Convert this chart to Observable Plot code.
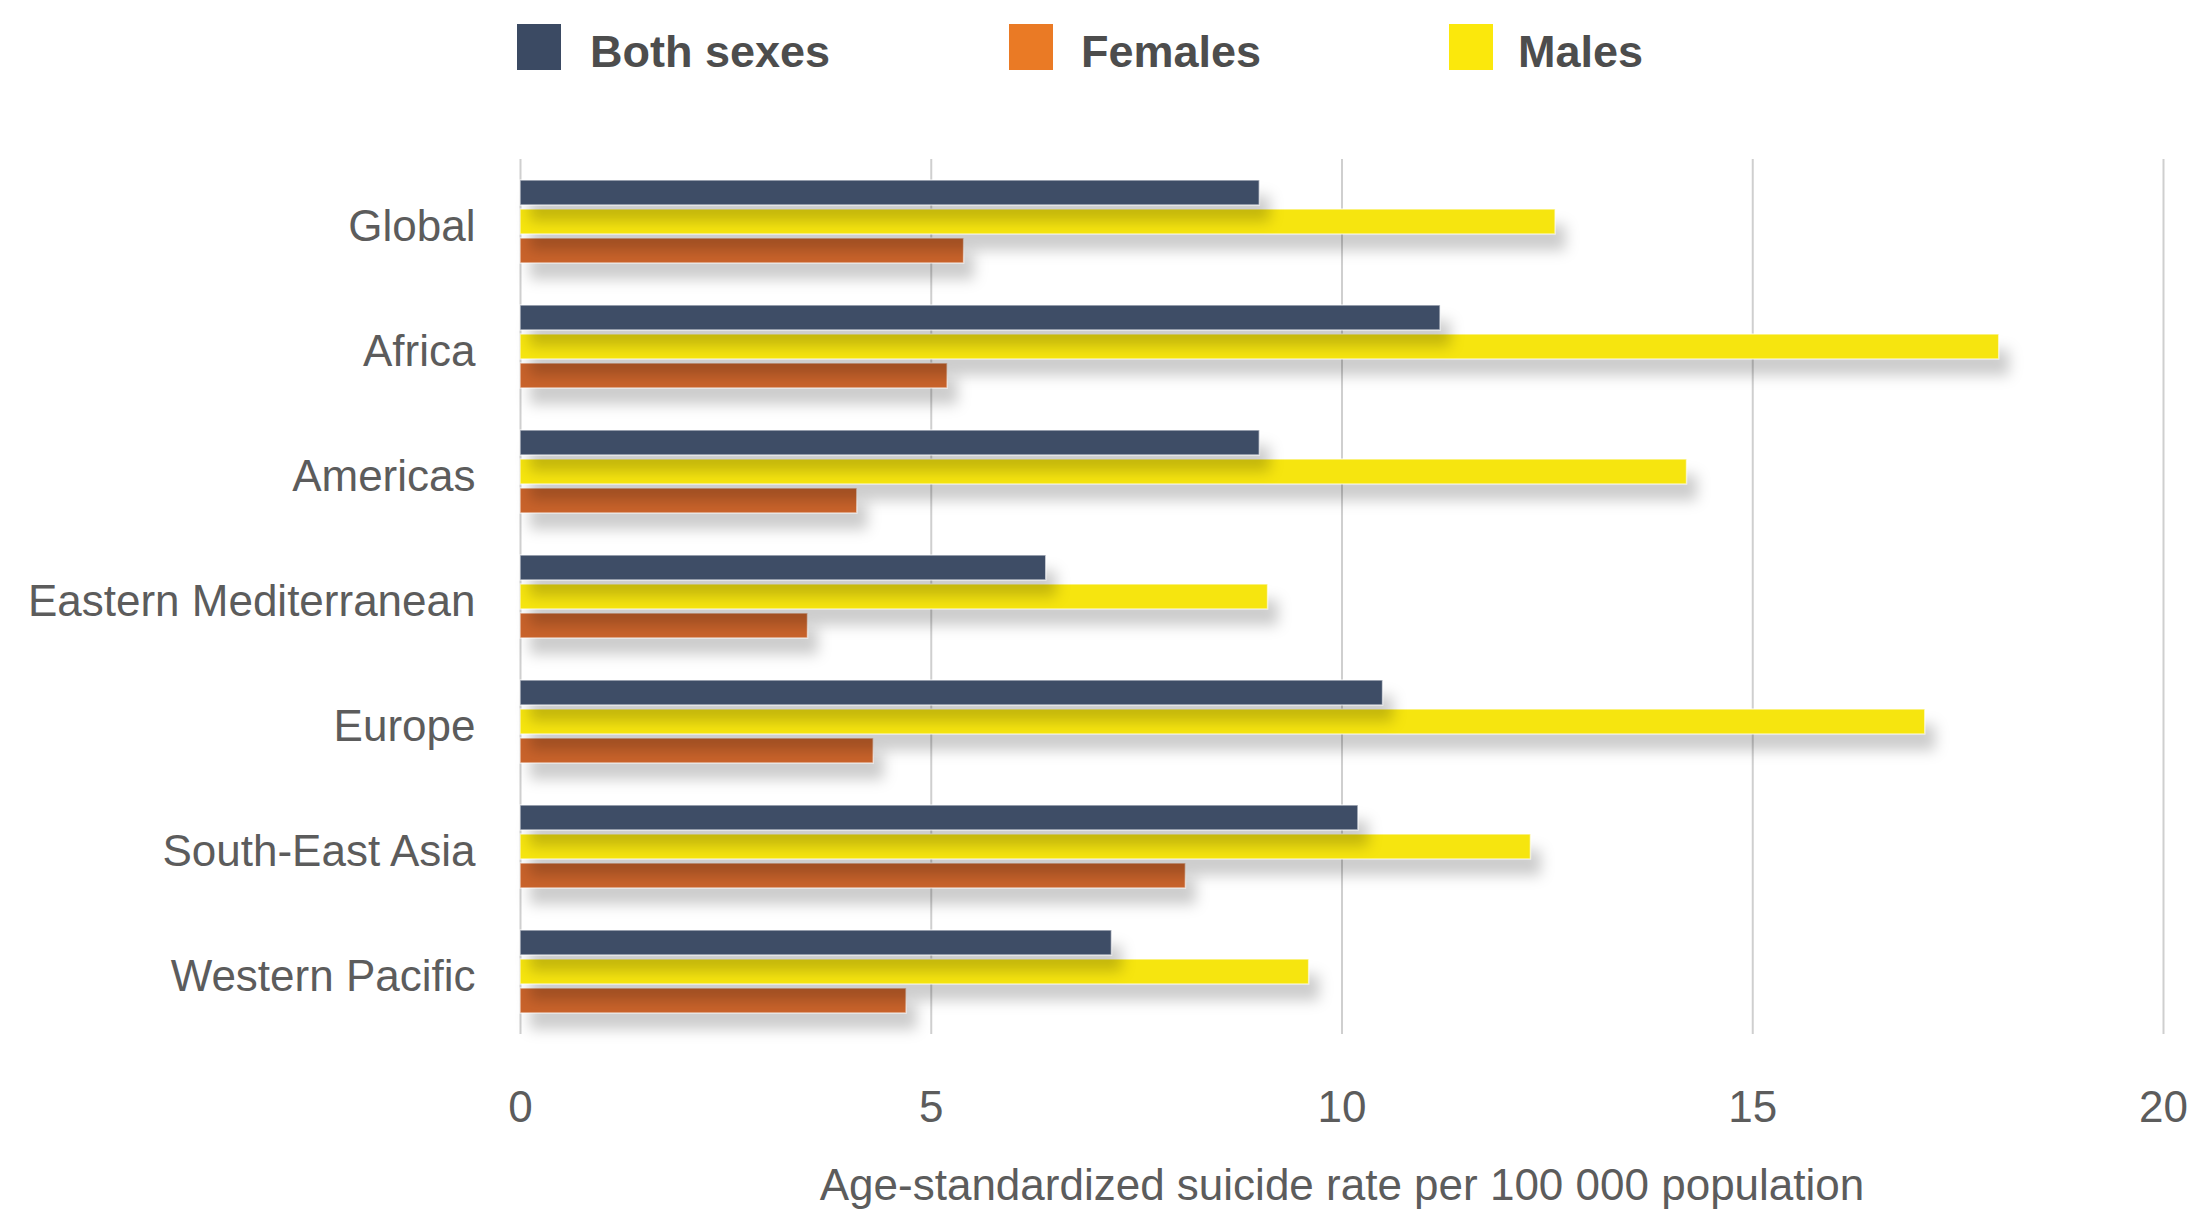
<!DOCTYPE html>
<html><head><meta charset="utf-8">
<script src="https://cdn.jsdelivr.net/npm/d3@7"></script>
<script src="https://cdn.jsdelivr.net/npm/@observablehq/plot@0.6"></script>
<style>
body{margin:0;background:#fff;font-family:"Liberation Sans",Arial,sans-serif;}
#wrap{position:relative;width:2198px;height:1213px;overflow:hidden}
#legend{position:relative;height:100px}
.sw{position:absolute;top:24px;width:44px;height:46px}
.lt{position:absolute;top:24px;line-height:56px;font-weight:bold;font-size:45px;color:#4d4d4d;white-space:nowrap}
g[aria-label="bar"] rect{filter:drop-shadow(10px 16px 7px rgba(0,0,0,0.2));}
</style>
</head><body>
<div id="wrap">
  <div id="legend"></div>
  <div id="chart"></div>
</div>
<script>
const regions = ["Global","Africa","Americas","Eastern Mediterranean","Europe","South-East Asia","Western Pacific"];
const series = ["Both sexes","Males","Females"];
const legendOrder = ["Both sexes","Females","Males"];
const bothSexes = [9.0, 11.2, 9.0, 6.4, 10.5, 10.2, 7.2];
const males     = [12.6, 18.0, 14.2, 9.1, 17.1, 12.3, 9.6];
const females   = [5.4, 5.2, 4.1, 3.5, 4.3, 8.1, 4.7];
const xTicks = [0, 5, 10, 15, 20];
const barColors = {"Both sexes":"#3e4d66","Males":"#f6e50f","Females":"#c9632b"};
const legendColors = {"Both sexes":"#3b4a63","Females":"#ea7a25","Males":"#fbe80c"};
const xLabel = "Age-standardized suicide rate per 100 000 population";

// draw order: bottom bar first so upper bars' shadows fall on the lower ones
const rows = [];
regions.forEach((r, i) => {
  rows.push({region: r, series: "Females", value: females[i]});
  rows.push({region: r, series: "Males", value: males[i]});
  rows.push({region: r, series: "Both sexes", value: bothSexes[i]});
});

// legend
const legendPos = {"Both sexes":[517,590],"Females":[1009,1081],"Males":[1449,1518]};
const lg = document.getElementById("legend");
legendOrder.forEach(s => {
  const sw = document.createElement("div");
  sw.className = "sw"; sw.style.left = legendPos[s][0] + "px"; sw.style.background = legendColors[s];
  const t = document.createElement("div");
  t.className = "lt"; t.style.left = legendPos[s][1] + "px"; t.textContent = s;
  lg.appendChild(sw); lg.appendChild(t);
});

const hasAxisMarks = typeof Plot.axisFy === "function";
const fyOpts = hasAxisMarks
  ? {domain: regions, padding: 0, axis: null}
  : {domain: regions, padding: 0, label: null, axis: "left", tickSize: 0, tickPadding: 45};
const extraMarks = hasAxisMarks
  ? [Plot.axisFy({anchor: "left", tickSize: 0, tickPadding: 45, label: null, dy: 5, fontSize: 44})]
  : [];

const chart = Plot.plot({
  width: 2198,
  height: 1113,
  marginLeft: 520,
  marginRight: 35,
  marginTop: 56,
  marginBottom: 177,
  style: {fontFamily: "'Liberation Sans', Arial, sans-serif", fontSize: "44px", color: "#5c5c5c", background: "transparent"},
  x: {domain: [0, 20], ticks: xTicks, label: xLabel, labelAnchor: "center", labelOffset: 165, labelArrow: "none", tickSize: 0, tickPadding: 56},
  y: {domain: series, axis: null, paddingInner: 0.14, paddingOuter: 0, insetTop: 21, insetBottom: 21},
  fy: fyOpts,
  color: {domain: series, range: series.map(s => barColors[s])},
  marks: [
    Plot.ruleX(xTicks, {stroke: "#cfcfcf", strokeWidth: 2}),
    Plot.barX(rows, {x: "value", y: "series", fy: "region", fill: "series", stroke: "#ffffff", strokeOpacity: 0.6, strokeWidth: 1.5}),
    ...extraMarks
  ]
});
document.getElementById("chart").appendChild(chart);
</script>
</body></html>
